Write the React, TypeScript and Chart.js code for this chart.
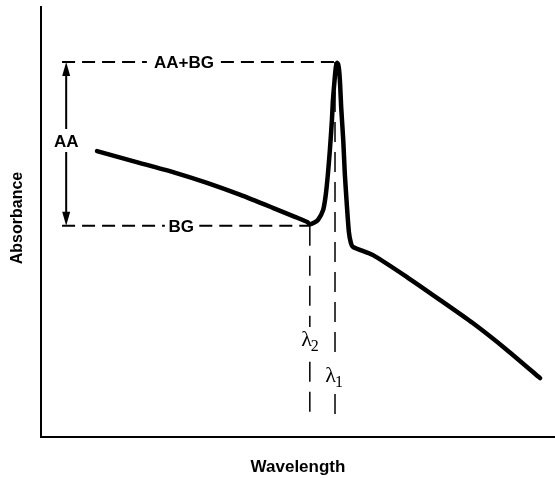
import React, { useEffect, useRef } from "react";
import { Chart, registerables } from "chart.js";

Chart.register(...registerables);

// Absorbance spectrum (arbitrary units, wavelength 0–100, absorbance 0–100)
const curveX = [10.9, 19.3, 26.0, 32.3, 38.8, 45.1, 49.4, 51.8, 52.3, 53.1, 53.9, 54.9, 55.4, 55.8, 56.2, 56.6, 56.8, 57.2, 57.4, 57.6, 57.8, 58.0, 58.2, 58.4, 58.8, 59.1, 59.5, 59.9, 60.3, 60.7, 64.6, 71.2, 77.6, 84.0, 90.7, 97.1];
const curveY = [66.5, 63.7, 61.5, 59.1, 56.3, 53.3, 51.2, 50.0, 49.5, 49.8, 50.5, 52.8, 56.3, 60.9, 66.7, 73.7, 78.4, 84.2, 86.3, 87.0, 86.7, 85.3, 81.9, 76.7, 69.1, 61.4, 54.0, 47.7, 45.1, 44.2, 42.3, 37.2, 31.9, 26.5, 20.2, 13.7];

// Reference levels
const peakLevel = 87.2; // AA+BG
const bgLevel = 49.1; // BG
const guideStartX = 4.1;
const arrowX = 4.9;
const lambda2X = 52.3;
const lambda1X = 57.2;
const guideBottomY = 4.9;

// Gaps in guide lines for labels
const topGapX = [20.6, 35.0];
const bgGapX = [24.1, 30.8];
const arrowGapY = [66.3, 71.6];
const lambda2GapY = [25.6, 17.5];
const lambda1GapY = [18.8, 10.0];

// Labels
const labelTexts = ["AA+BG", "BG", "AA", "λ", "λ"];
const labelSubs = ["", "", "", "2", "1"];
const labelX = [27.8, 27.3, 4.9, 52.3, 57.0];
const labelY = [87.2, 49.1, 68.8, 22.1, 13.7];
const xTitle = "Wavelength";
const yTitle = "Absorbance";

const seg = (x1: number, y1: number, x2: number, y2: number) => [
  { x: x1, y: y1 },
  { x: x2, y: y2 },
];

export default function App() {
  const ref = useRef<HTMLCanvasElement | null>(null);

  useEffect(() => {
    if (!ref.current) return;
    const hDash = { borderColor: "#000", borderWidth: 2, borderDash: [13, 7], pointRadius: 0, tension: 0 };
    const vDash = { borderColor: "#000", borderWidth: 1.5, borderDash: [20, 10], pointRadius: 0, tension: 0 };
    const solid = { borderColor: "#000", borderWidth: 2, pointRadius: 0, tension: 0 };

    const curve = curveX.map((x, i) => ({ x, y: curveY[i] }));

    const labelsPlugin = {
      id: "labels",
      afterDatasetsDraw(chart: any) {
        const { ctx, scales, chartArea } = chart;
        const xs = scales.x;
        const ys = scales.y;
        ctx.save();
        ctx.fillStyle = "#000";
        // arrowheads
        const ax = xs.getPixelForValue(arrowX);
        const topPx = ys.getPixelForValue(peakLevel);
        const botPx = ys.getPixelForValue(bgLevel);
        ctx.beginPath();
        ctx.moveTo(ax, topPx);
        ctx.lineTo(ax - 4, topPx + 14);
        ctx.lineTo(ax + 4, topPx + 14);
        ctx.closePath();
        ctx.fill();
        ctx.beginPath();
        ctx.moveTo(ax, botPx);
        ctx.lineTo(ax - 4, botPx - 14);
        ctx.lineTo(ax + 4, botPx - 14);
        ctx.closePath();
        ctx.fill();

        ctx.textBaseline = "middle";
        labelTexts.forEach((t, i) => {
          const px = xs.getPixelForValue(labelX[i]);
          const py = ys.getPixelForValue(labelY[i]);
          if (labelSubs[i]) {
            ctx.font = "22px 'Liberation Serif', 'DejaVu Serif', serif";
            ctx.textAlign = "right";
            ctx.fillText(t, px + 2, py - 2);
            ctx.font = "16px 'Liberation Serif', 'DejaVu Serif', serif";
            ctx.textAlign = "left";
            ctx.fillText(labelSubs[i], px + 1, py + 5);
          } else {
            ctx.textAlign = "center";
            ctx.font = "bold 17px 'Liberation Sans', Arial, sans-serif";
            ctx.fillText(t, px, py + 1);
          }
        });

        ctx.textAlign = "center";
        ctx.font = "bold 17px 'Liberation Sans', Arial, sans-serif";
        ctx.fillText(xTitle, (chartArea.left + chartArea.right) / 2, 467);
        ctx.translate(18, (chartArea.top + chartArea.bottom) / 2 - 4);
        ctx.rotate(-Math.PI / 2);
        ctx.font = "bold 16px 'Liberation Sans', Arial, sans-serif";
        ctx.fillText(yTitle, 0, 0);
        ctx.restore();
      },
    };

    const chart = new Chart(ref.current, {
      type: "scatter",
      data: {
        datasets: [
          { ...hDash, showLine: true, data: seg(guideStartX, peakLevel, topGapX[0], peakLevel) },
          { ...hDash, showLine: true, data: seg(topGapX[1], peakLevel, lambda1X, peakLevel) },
          { ...hDash, showLine: true, data: seg(guideStartX, bgLevel, bgGapX[0], bgLevel) },
          { ...hDash, showLine: true, data: seg(bgGapX[1], bgLevel, lambda2X, bgLevel) },
          { ...solid, showLine: true, data: seg(arrowX, peakLevel - 2, arrowX, arrowGapY[1]) },
          { ...solid, showLine: true, data: seg(arrowX, arrowGapY[0], arrowX, bgLevel + 2) },
          { ...vDash, showLine: true, data: seg(lambda2X, bgLevel, lambda2X, lambda2GapY[0]) },
          { ...vDash, showLine: true, data: seg(lambda2X, lambda2GapY[1], lambda2X, guideBottomY) },
          { ...vDash, showLine: true, data: seg(lambda1X, peakLevel, lambda1X, lambda1GapY[0]) },
          { ...vDash, showLine: true, data: seg(lambda1X, lambda1GapY[1], lambda1X, guideBottomY) },
          {
            showLine: true,
            data: curve,
            borderColor: "#000",
            borderWidth: 4.5,
            pointRadius: 0,
            tension: 0.2,
            borderCapStyle: "round",
            borderJoinStyle: "round",
          },
        ],
      } as any,
      options: {
        animation: false,
        responsive: false,
        events: [],
        layout: { padding: { left: 41, right: 0, top: 7, bottom: 41 } },
        plugins: { legend: { display: false }, tooltip: { enabled: false } },
        scales: {
          x: {
            type: "linear",
            min: 0,
            max: 100,
            ticks: { display: false },
            grid: { display: false, drawTicks: false },
            border: { display: true, color: "#000", width: 2 },
          },
          y: {
            type: "linear",
            min: 0,
            max: 100,
            ticks: { display: false },
            grid: { display: false, drawTicks: false },
            border: { display: true, color: "#000", width: 2 },
          },
        },
      } as any,
      plugins: [labelsPlugin],
    });
    return () => chart.destroy();
  }, []);

  return (
    <canvas
      ref={ref}
      width={555}
      height={478}
      style={{ position: "fixed", left: 0, top: 0, width: 555, height: 478, display: "block", background: "#fff" }}
    />
  );
}
